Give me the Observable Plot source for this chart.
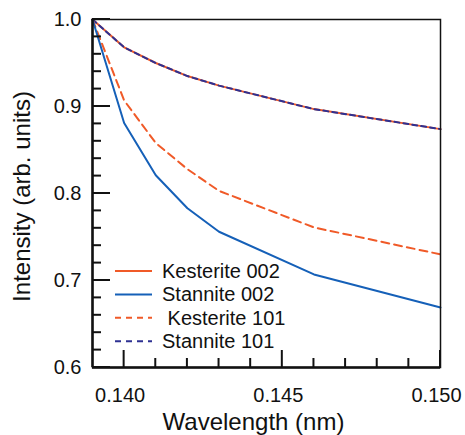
<!DOCTYPE html>
<html>
<head>
<meta charset="utf-8">
<script src="https://cdn.jsdelivr.net/npm/d3@7"></script>
<script src="https://cdn.jsdelivr.net/npm/@observablehq/plot@0.6"></script>
<style>
  body { margin: 0; background: #fff; }
  #wrap { position: relative; width: 465px; height: 435px; font-family: "Liberation Sans", Arial, sans-serif; }
  #overlay { position: absolute; left: 0; top: 0; pointer-events: none; }
</style>
</head>
<body>
<div id="wrap"></div>
<script>
// ---- data ----
const wavelength   = [0.139, 0.140, 0.141, 0.142, 0.143, 0.146, 0.150];
const kesterite002 = [1.000, 0.968, 0.950, 0.935, 0.924, 0.897, 0.874];
const stannite002  = [1.000, 0.881, 0.821, 0.783, 0.756, 0.707, 0.669];
const kesterite101 = [1.000, 0.907, 0.858, 0.828, 0.803, 0.761, 0.730];
const stannite101  = [1.000, 0.968, 0.950, 0.935, 0.924, 0.897, 0.874];
const seriesNames  = ["Kesterite 002", "Stannite 002", " Kesterite 101", "Stannite 101"];
const xDomain = [0.139, 0.150];
const yDomain = [0.6, 1.0];
const xMajorTicks = [0.140, 0.145, 0.150];
const xMinorTicks = [0.141, 0.142, 0.143, 0.144, 0.146, 0.147, 0.148, 0.149];
const yMajorTicks = [0.6, 0.7, 0.8, 0.9, 1.0];
const yMinorTicks = [0.62, 0.64, 0.66, 0.68, 0.72, 0.74, 0.76, 0.78, 0.82, 0.84, 0.86, 0.88, 0.92, 0.94, 0.96, 0.98];
const xLabel = "Wavelength (nm)";
const yLabel = "Intensity (arb. units)";

// ---- layout ----
const W = 465, H = 435, ML = 92, MR = 25, MT = 19, MB = 68;

// ---- styles ----
const ORANGE = "#f05a28", BLUE = "#1560b8", NAVY = "#2e3192";
const seriesStyle = [
  {values: kesterite002, color: ORANGE, dash: null},
  {values: stannite002,  color: BLUE,   dash: null},
  {values: kesterite101, color: ORANGE, dash: "8,5"},
  {values: stannite101,  color: NAVY,   dash: "5,4"}
];
const drawOrder = [0, 3, 2, 1];

const lineMarks = drawOrder.map(i => {
  const s = seriesStyle[i];
  const rows = wavelength.map((w, j) => ({w, v: s.values[j]}));
  return Plot.line(rows, {x: "w", y: "v", stroke: s.color, strokeWidth: 2, strokeDasharray: s.dash});
});

const chart = Plot.plot({
  width: W,
  height: H,
  marginLeft: ML,
  marginRight: MR,
  marginTop: MT,
  marginBottom: MB,
  style: {fontFamily: "Liberation Sans, Arial, sans-serif", fontSize: "20px", color: "#111", background: "white"},
  x: {domain: xDomain},
  y: {domain: yDomain},
  marks: [
    ...lineMarks,
    Plot.frame({stroke: "#111", strokeWidth: 1.5}),
    Plot.ruleX([xDomain[0]], {stroke: "#111", strokeWidth: 2.5}),
    Plot.ruleY([yDomain[0]], {stroke: "#111", strokeWidth: 2.5}),
    Plot.axisX({ticks: xMajorTicks, anchor: "bottom", tickSize: 0, tickPadding: 20, dx: -4, tickFormat: d3.format(".3f"), label: null, fontSize: 20}),
    Plot.axisY({ticks: yMajorTicks, anchor: "left", tickSize: 0, tickPadding: 11, tickFormat: d3.format(".1f"), label: null, fontSize: 20}),
    Plot.text([xLabel], {frameAnchor: "bottom", lineAnchor: "middle", textAnchor: "middle", dy: 55, dx: -13, fontSize: 24, fill: "#111"}),
    Plot.text([yLabel], {frameAnchor: "left", lineAnchor: "middle", textAnchor: "middle", dx: -70, dy: 3, rotate: -90, fontSize: 24, fill: "#111"})
  ]
});
document.getElementById("wrap").appendChild(chart);

// ---- overlay: inward ticks (positioned through the chart's own scales) and legend ----
const sx = chart.scale("x"), sy = chart.scale("y");
const x0 = sx.apply(xDomain[0]), y0 = sy.apply(yDomain[0]);
const ov = d3.select("#wrap").append("svg")
  .attr("id", "overlay").attr("width", W).attr("height", H);

const tickG = ov.append("g").attr("stroke", "#111").attr("stroke-width", 2);
const xTickSets = [{ticks: xMinorTicks, len: 9}, {ticks: xMajorTicks, len: 17}];
const yTickSets = [{ticks: yMinorTicks, len: 9}, {ticks: yMajorTicks, len: 18}];
xTickSets.forEach(({ticks, len}) => {
  tickG.selectAll(null).data(ticks).join("line")
    .attr("x1", d => sx.apply(d)).attr("x2", d => sx.apply(d))
    .attr("y1", y0).attr("y2", y0 - len);
});
yTickSets.forEach(({ticks, len}) => {
  tickG.selectAll(null).data(ticks).join("line")
    .attr("y1", d => sy.apply(d)).attr("y2", d => sy.apply(d))
    .attr("x1", x0).attr("x2", x0 + len);
});

const legendRows = [0, 1, 2, 3].map(i => ({name: seriesNames[i], ...seriesStyle[i]}));
const g = ov.selectAll("g.leg").data(legendRows).join("g").attr("class", "leg")
  .attr("transform", (d, i) => `translate(115, ${271 + i * 23.4})`);
g.append("line").attr("x1", 0).attr("x2", 37).attr("y1", 0).attr("y2", 0)
  .attr("stroke", d => d.color).attr("stroke-width", 2)
  .attr("stroke-dasharray", d => d.dash ? "6,5" : null);
g.append("text").attr("x", 47).attr("y", 0).attr("dy", "0.35em")
  .attr("font-size", 20).attr("fill", "#111")
  .attr("font-family", "Liberation Sans, Arial, sans-serif")
  .attr("xml:space", "preserve").style("white-space", "pre")
  .text(d => d.name);
</script>
</body>
</html>
